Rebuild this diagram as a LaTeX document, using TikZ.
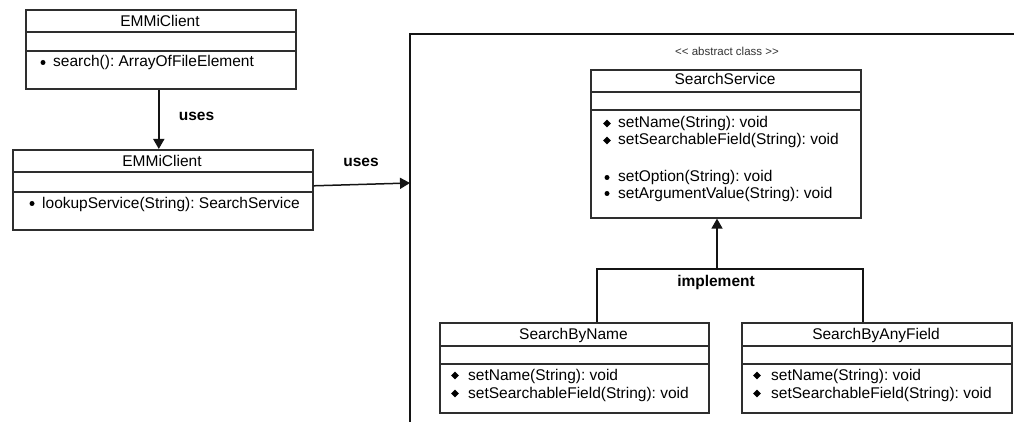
\documentclass[tikz,border=0pt]{standalone}
\usepackage{fontspec}
\setmainfont{Liberation Sans}
\usetikzlibrary{arrows.meta}
\frenchspacing

\tikzset{
  classbox/.style={draw=black!82, line width=1.6pt, rectangle, inner sep=0pt, anchor=north west},
  divider/.style={draw=black!82, line width=1.6pt},
  title/.style={font=\fontsize{15.5}{18}\selectfont, anchor=base, inner sep=0pt},
  member/.style={font=\fontsize{15.5}{18}\selectfont, anchor=base west, inner sep=0pt},
  conn/.style={draw=black!92, line width=1.5pt},
  tip/.style={-{Triangle[length=10pt,width=11pt]}},
  relname/.style={font=\fontsize{15.5}{18}\selectfont\bfseries, anchor=base, inner sep=0pt},
  stereo/.style={font=\fontsize{11.5}{13}\selectfont, text=black!80, anchor=base, inner sep=0pt}
}
% bullet markers for the operations (centred on the given point)
\newcommand\opdot[1]{\fill #1 circle[radius=2.5pt];}
\newcommand\opdiamond[1]{\fill #1 ++(-3.9,0) -- ++(3.9,-3.9) -- ++(3.9,3.9) -- ++(-3.9,3.9) -- cycle;}

\begin{document}
\begin{tikzpicture}[x=1pt,y=-1pt]
\useasboundingbox (0,0) rectangle (1014,422);

% ---- client (top) ----
\node[classbox, minimum width=270pt, minimum height=79pt] (c1) at (25,9) {};
\draw[divider] (25,32) -- (295,32);
\draw[divider] (25,51) -- (295,51);
\node[title] (c1t) at (160,27) {EMMiClient};
\opdot{(43,62.5)}
\node[member] (c1m) at (53,67) {search(): ArrayOfFileElement};

% ---- client (lookup) ----
\node[classbox, minimum width=300pt, minimum height=80pt] (c2) at (12,149) {};
\draw[divider] (12,172) -- (312,172);
\draw[divider] (12,192) -- (312,192);
\node[title] (c2t) at (162,167) {EMMiClient};
\opdot{(32,203.5)}
\node[member] (c2m) at (42,208) {lookupService(String): SearchService};

% ---- package frame ----
\draw[conn] (410,424) -- (410,34) -- (1016,34);
\coordinate (frm) at (410,183);
\node[stereo] (st) at (727,56) {<\kern0pt< abstract class >\kern0pt>};

% ---- abstract service ----
\node[classbox, minimum width=270pt, minimum height=148pt] (ss) at (590,69) {};
\draw[divider] (590,92) -- (860,92);
\draw[divider] (590,110) -- (860,110);
\node[title] (sst) at (725,85) {SearchService};
\opdiamond{(607,123.5)}
\node[member] (ss1) at (618,128) {setName(String): void};
\opdiamond{(607,140.5)}
\node[member] (ss2) at (618,145) {setSearchableField(String): void};
\opdot{(607,177.5)}
\node[member] (ss3) at (618,182) {setOption(String): void};
\opdot{(607,193.5)}
\node[member] (ss4) at (618,198) {setArgumentValue(String): void};

% ---- implementations ----
\node[classbox, minimum width=269pt, minimum height=90pt] (sbn) at (439,322) {};
\draw[divider] (439,346) -- (708,346);
\draw[divider] (439,364) -- (708,364);
\node[title] (sbnt) at (573.5,339) {SearchByName};
\opdiamond{(455,375.5)}
\node[member] (sbn1) at (468,380) {setName(String): void};
\opdiamond{(455,393.5)}
\node[member] (sbn2) at (468,398) {setSearchableField(String): void};

\node[classbox, minimum width=270pt, minimum height=90pt] (sba) at (741,322) {};
\draw[divider] (741,346) -- (1011,346);
\draw[divider] (741,364) -- (1011,364);
\node[title] (sbat) at (876,339) {SearchByAnyField};
\opdiamond{(757,375.5)}
\node[member] (sba1) at (771,380) {setName(String): void};
\opdiamond{(757,393.5)}
\node[member] (sba2) at (771,398) {setSearchableField(String): void};

% ---- relations ----
\draw[conn, tip] ([xshift=-2pt]c1.south) -- ([xshift=-2pt]c1.south |- c2.north);
\node[relname] (u1) at (196.5,121) {uses};

\draw[conn, tip] ([yshift=4pt]c2.east) -- (frm);
\node[relname] (u2) at (361,167) {uses};

\coordinate (j) at (717,269);
\draw[conn, tip] (j) -- (j |- ss.south);
\draw[conn] ([xshift=22.5pt]sbn.north) |- (j) -| ([xshift=-14pt]sba.north);
\node[relname] (imp) at (716,286) {implement};
\end{tikzpicture}
\end{document}
